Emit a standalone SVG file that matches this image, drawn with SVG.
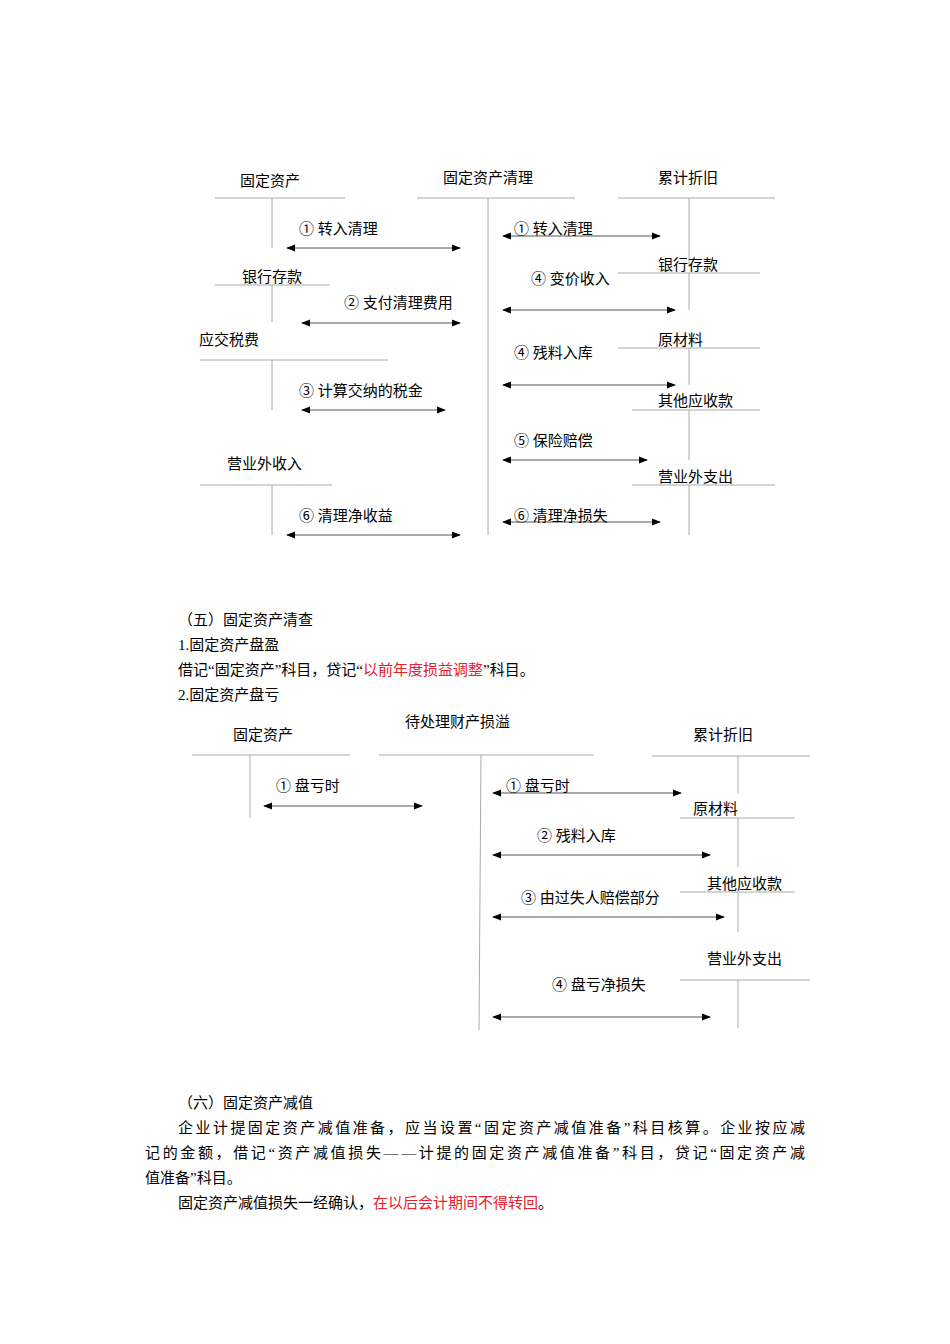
<svg xmlns="http://www.w3.org/2000/svg" width="950" height="1344" viewBox="0 0 950 1344">
<style>
text{font-family:"Liberation Serif","Noto Sans CJK SC",serif;font-size:15px;fill:#000}
.red{fill:#e8202a}
.t{stroke:#aaa;stroke-width:1;fill:none}
.a{stroke:#555;stroke-width:1;marker-start:url(#h);marker-end:url(#h)}
</style>
<defs><marker id="h" viewBox="0 0 10 10" refX="9" refY="5" markerWidth="9" markerHeight="9" orient="auto-start-reverse" markerUnits="userSpaceOnUse"><path d="M0,1L10,5L0,9z" fill="#000"/></marker></defs>
<rect width="950" height="1344" fill="#fff"/>
<g id="acc-top-gdzc"><path class="t" d="M215,198H345M272,198V248"/><text x="240" y="186">固定资产</text></g>
<g id="acc-top-ql"><path class="t" d="M417,198H575M488,198V535"/><text x="443" y="183">固定资产清理</text></g>
<g id="acc-top-ljzj"><path class="t" d="M618,198H775M689,198V265"/><text x="658" y="183">累计折旧</text></g>
<g id="acc-top-yhck"><path class="t" d="M215,285H330M272,285V322"/><text x="242" y="282">银行存款</text></g>
<g id="acc-top-yjsf"><path class="t" d="M200,360H388M272,360V410"/><text x="199" y="345">应交税费</text></g>
<g id="acc-top-yywsr"><path class="t" d="M200,485H332M272,485V535"/><text x="227" y="469">营业外收入</text></g>
<g id="acc-top-yhck2"><path class="t" d="M618,273H760M689,273V310"/><text x="658" y="270">银行存款</text></g>
<g id="acc-top-ycl"><path class="t" d="M618,348H760M689,348V385"/><text x="658" y="345">原材料</text></g>
<g id="acc-top-qtysk"><path class="t" d="M632,410H760M689,410V460"/><text x="658" y="406">其他应收款</text></g>
<g id="acc-top-yywzc"><path class="t" d="M632,485H775M689,485V535"/><text x="658" y="482">营业外支出</text></g>
<g id="connectors-top">
<line class="a" x1="287" y1="248" x2="460" y2="248"/><text x="299" y="234">① 转入清理</text>
<line class="a" x1="302" y1="323" x2="460" y2="323"/><text x="344" y="308">② 支付清理费用</text>
<line class="a" x1="302" y1="410" x2="445" y2="410"/><text x="299" y="396">③ 计算交纳的税金</text>
<line class="a" x1="287" y1="535" x2="460" y2="535"/><text x="299" y="521">⑥ 清理净收益</text>
<line class="a" x1="503" y1="236" x2="660" y2="236"/><text x="514" y="234">① 转入清理</text>
<line class="a" x1="503" y1="310" x2="675" y2="310"/><text x="531" y="284">④ 变价收入</text>
<line class="a" x1="503" y1="385" x2="675" y2="385"/><text x="514" y="358">④ 残料入库</text>
<line class="a" x1="503" y1="460" x2="647" y2="460"/><text x="514" y="446">⑤ 保险赔偿</text>
<line class="a" x1="503" y1="522" x2="660" y2="522"/><text x="514" y="521">⑥ 清理净损失</text>
</g>
<text x="178" y="625">（五）固定资产清查</text>
<text x="178" y="650">1.固定资产盘盈</text>
<text x="178" y="675">借记“固定资产”科目，贷记“<tspan class="red">以前年度损益调整</tspan>”科目。</text>
<text x="178" y="700">2.固定资产盘亏</text>
<g id="acc-b-gdzc"><path class="t" d="M192,755H350M250,755V818"/><text x="233" y="740">固定资产</text></g>
<g id="acc-b-dcl"><path class="t" d="M379,755H594M481,755L479,1030"/><text x="405" y="727">待处理财产损溢</text></g>
<g id="acc-b-ljzj"><path class="t" d="M652,756H810M738,756V793"/><text x="693" y="740">累计折旧</text></g>
<g id="acc-b-ycl"><path class="t" d="M680,818H795M738,818V867"/><text x="693" y="814">原材料</text></g>
<g id="acc-b-qtysk"><path class="t" d="M680,892H795M738,892V932"/><text x="707" y="889">其他应收款</text></g>
<g id="acc-b-yywzc"><path class="t" d="M680,980H810M738,980V1028"/><text x="707" y="964">营业外支出</text></g>
<g id="connectors-bottom">
<line class="a" x1="264" y1="806" x2="422" y2="806"/><text x="276" y="791">① 盘亏时</text>
<line class="a" x1="493" y1="793" x2="681" y2="793"/><text x="506" y="791">① 盘亏时</text>
<line class="a" x1="493" y1="855" x2="710" y2="855"/><text x="537" y="841">② 残料入库</text>
<line class="a" x1="493" y1="917" x2="724" y2="917"/><text x="521" y="903">③ 由过失人赔偿部分</text>
<line class="a" x1="493" y1="1017" x2="710" y2="1017"/><text x="552" y="990">④ 盘亏净损失</text>
</g>
<text x="178" y="1108">（六）固定资产减值</text>
<text x="178" y="1133" textLength="627" lengthAdjust="spacing">企业计提固定资产减值准备，应当设置“固定资产减值准备”科目核算。企业按应减</text>
<text x="145" y="1158" textLength="660" lengthAdjust="spacing">记的金额，借记“资产减值损失——计提的固定资产减值准备”科目，贷记“固定资产减</text>
<text x="145" y="1183">值准备”科目。</text>
<text x="178" y="1208">固定资产减值损失一经确认，<tspan class="red">在以后会计期间不得转回</tspan>。</text>
</svg>
